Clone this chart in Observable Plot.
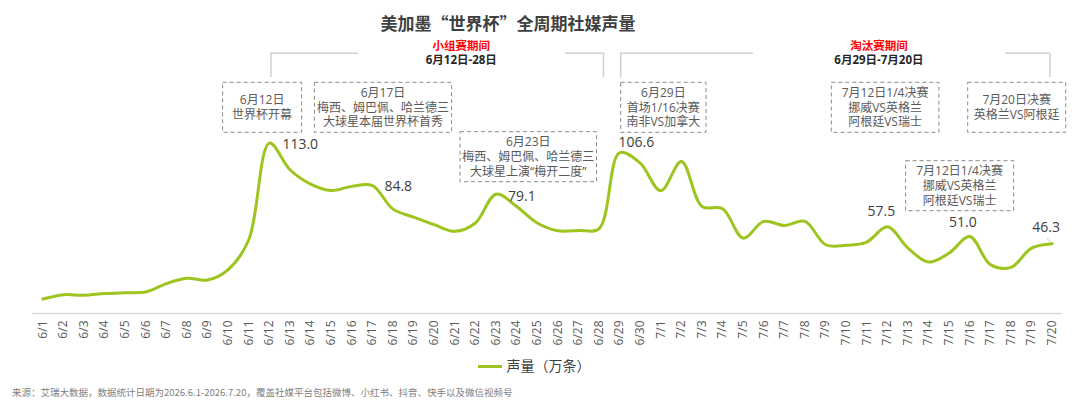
<!DOCTYPE html>
<html>
<head>
<meta charset="utf-8">
<script src="https://cdn.jsdelivr.net/npm/d3@7"></script>
<script src="https://cdn.jsdelivr.net/npm/@observablehq/plot@0.6"></script>
<style>
  html { overflow: hidden; }
  body { margin: 0; background: #fff; width: 1080px; height: 409px; overflow: hidden;
         font-family: "Open Sans", "Noto Sans CJK SC", sans-serif; }
  #title { width: 1016px; height: 38px; line-height: 46px; text-align: center;
           font-size: 17px; font-weight: bold; color: #404040;
           font-family: "Noto Sans CJK SC", sans-serif; }
  #chart { width: 1080px; height: 310px; }
  #chart svg { display: block; max-width: none !important; width: 1080px; height: 310px; }
  #legend { width: 1068px; height: 34px; line-height: 34px; text-align: center;
            font-size: 14px; color: #404040; font-family: "Noto Sans CJK SC", sans-serif; }
  #legend .sw { display: inline-block; width: 24px; height: 3px; background: #9dc41f;
                vertical-align: middle; margin-right: 5px; position: relative; top: -1px; }
  #footer { height: 20px; line-height: 20px; padding-left: 12px; font-size: 9.5px; color: #808080;
            font-family: "Noto Sans CJK SC", sans-serif; }
</style>
</head>
<body>
<div id="title">美加墨“世界杯”全周期社媒声量</div>
<div id="chart"></div>
<div id="legend"><span class="sw"></span><span>声量（万条）</span></div>
<div id="footer">来源：艾瑞大数据，数据统计日期为2026.6.1-2026.7.20，覆盖社媒平台包括微博、小红书、抖音、快手以及微信视频号</div>
<script>
// ---- data ----
const dates = ["6/1","6/2","6/3","6/4","6/5","6/6","6/7","6/8","6/9","6/10",
  "6/11","6/12","6/13","6/14","6/15","6/16","6/17","6/18","6/19","6/20",
  "6/21","6/22","6/23","6/24","6/25","6/26","6/27","6/28","6/29","6/30",
  "7/1","7/2","7/3","7/4","7/5","7/6","7/7","7/8","7/9","7/10",
  "7/11","7/12","7/13","7/14","7/15","7/16","7/17","7/18","7/19","7/20"];
const values = [9.6, 12.5, 12.1, 13.2, 13.8, 14.3, 19.8, 23.3, 22.2, 29.1,
  48.9, 113.0, 95.3, 85.8, 81.6, 84.3, 84.8, 69.2, 63.9, 58.9,
  54.5, 60.0, 79.1, 71.0, 60.0, 54.9, 55.1, 56.2, 106.6, 99.7,
  81.4, 100.8, 71.0, 69.5, 50.0, 61.1, 58.4, 61.1, 45.6, 45.2,
  47.4, 57.5, 43.4, 34.1, 40.1, 51.0, 32.4, 30.6, 43.4, 46.3];
const labelDates = ["6/12","6/17","6/23","6/29","7/12","7/16","7/20"];
const noteDates = ["6/12","6/17","6/23","6/29","7/12","7/20","7/16"];
const noteTexts = [
  ["6月12日","世界杯开幕"],
  ["6月17日","梅西、姆巴佩、哈兰德三","大球星本届世界杯首秀"],
  ["6月23日","梅西、姆巴佩、哈兰德三","大球星上演“梅开二度”"],
  ["6月29日","首场1/16决赛","南非VS加拿大"],
  ["7月12日1/4决赛","挪威VS英格兰","阿根廷VS瑞士"],
  ["7月20日决赛","英格兰VS阿根廷"],
  ["7月12日1/4决赛","挪威VS英格兰","阿根廷VS瑞士"]
];
const stageNames = ["小组赛期间","淘汰赛期间"];
const stageRanges = ["6月12日-28日","6月29日-7月20日"];
const stageFrom = ["6/12","6/29"];
const stageTo = ["6/28","7/20"];

// ---- layout (positions / styles) ----
const labelLayout = [
  {dx: 13, dy: 1, anchor: "start"},
  {dx: 12, dy: 1, anchor: "start"},
  {dx: 12, dy: 2, anchor: "start"},
  {dx: -1, dy: -10, anchor: "start"},
  {dx: -6, dy: -15, anchor: "middle"},
  {dx: -7, dy: -14, anchor: "middle"},
  {dx: -6, dy: -16, anchor: "middle"}
];
const noteLayout = [
  {left: -46.3, w: 79, top: 44.3},
  {left: -57.5, w: 137.2, top: 44.3},
  {left: -35.5, w: 136.5, top: 93.7},
  {left: 1.6, w: 85.3, top: 44.3},
  {left: -55.6, w: 107.6, top: 44.3},
  {left: -84, w: 98, top: 44.3},
  {left: -63.7, w: 108, top: 122.7}
];
const stageLayout = [
  {l: 2, r: 5, textAt: "6/21", tdx: 7, gap: 103.5},
  {l: 1.6, r: -1.7, textAt: "7/12", tdx: -8, gap: 126}
];
const GREEN = "#9dc41f";
const FONT = '"Open Sans","Noto Sans CJK SC",sans-serif';

const data = dates.map((d, i) => ({date: d, value: values[i]}));

const labelMarks = labelDates.map((ld, k) =>
  Plot.text(data.filter(d => d.date === ld), {
    x: "date", y: "value", text: d => d.value.toFixed(1),
    dx: labelLayout[k].dx, dy: labelLayout[k].dy, textAnchor: labelLayout[k].anchor,
    fontSize: 14, fill: "#404040"
  })
);

const chart = Plot.plot({
  width: 1080, height: 310,
  marginLeft: 32, marginRight: 18, marginTop: 0, marginBottom: 35,
  style: {fontFamily: FONT, background: "transparent", overflow: "visible", maxWidth: "none"},
  x: {type: "point", domain: dates, padding: 0.5, round: false, label: null},
  y: {domain: [0, 275 / 1.508], axis: null},
  marks: [
    Plot.ruleY([0], {stroke: "#d9d9d9", strokeWidth: 1.5}),
    Plot.axisX({tickRotate: -90, tickSize: 0, tickPadding: 7, fontSize: 12, fill: "#595959", label: null}),
    Plot.line(data, {x: "date", y: "value", curve: "catmull-rom", stroke: GREEN, strokeWidth: 3}),
    ...labelMarks
  ]
});
document.getElementById("chart").appendChild(chart);

// ---- annotations drawn with the chart's own scales ----
const xs = chart.scale("x");
const ys = chart.scale("y");
const svg = d3.select(chart);
const g = svg.append("g").attr("font-family", FONT);

// stage brackets
stageNames.forEach((name, k) => {
  const L = stageLayout[k];
  const x1 = xs.apply(stageFrom[k]) + L.l;
  const x2 = xs.apply(stageTo[k]) + L.r;
  const tc = xs.apply(L.textAt) + L.tdx;
  const yTop = 15.3, yBot = 39;
  g.append("path")
    .attr("d", `M${x1},${yBot}V${yTop}H${tc - L.gap}M${tc + L.gap},${yTop}H${x2}V${yBot}`)
    .attr("fill", "none").attr("stroke", "#d0d0d0").attr("stroke-width", 1.5);
  g.append("text").attr("x", tc).attr("y", 7.5).attr("dy", "0.35em")
    .attr("text-anchor", "middle").attr("font-size", 11.5).attr("font-weight", "bold")
    .attr("fill", "#ff0000").text(name);
  g.append("text").attr("x", tc).attr("y", 22.2).attr("dy", "0.35em")
    .attr("text-anchor", "middle").attr("font-size", 11.5).attr("font-weight", "bold")
    .attr("fill", "#262626").text(stageRanges[k]);
});

// event callout boxes
noteDates.forEach((nd, k) => {
  const L = noteLayout[k];
  const x0 = xs.apply(nd) + L.left;
  const h = 50;
  g.append("rect").attr("x", x0).attr("y", L.top).attr("width", L.w).attr("height", h)
    .attr("fill", "none").attr("stroke", "#8a8a8a").attr("stroke-width", 1)
    .attr("stroke-dasharray", "4,3");
  const lines = noteTexts[k];
  const lh = 14.7;
  const cy = L.top + h / 2;
  lines.forEach((t, j) => {
    g.append("text").attr("x", x0 + L.w / 2)
      .attr("y", cy + (j - (lines.length - 1) / 2) * lh).attr("dy", "0.35em")
      .attr("text-anchor", "middle").attr("font-size", 12).attr("fill", "#595959").text(t);
  });
});

// small leader for last label
const lastX = xs.apply(dates[dates.length - 1]);
const lastY = ys.apply(values[values.length - 1]);
g.append("line").attr("x1", lastX - 5).attr("y1", lastY - 5).attr("x2", lastX).attr("y2", lastY)
  .attr("stroke", "#bfbfbf").attr("stroke-width", 1);
</script>
</body>
</html>
